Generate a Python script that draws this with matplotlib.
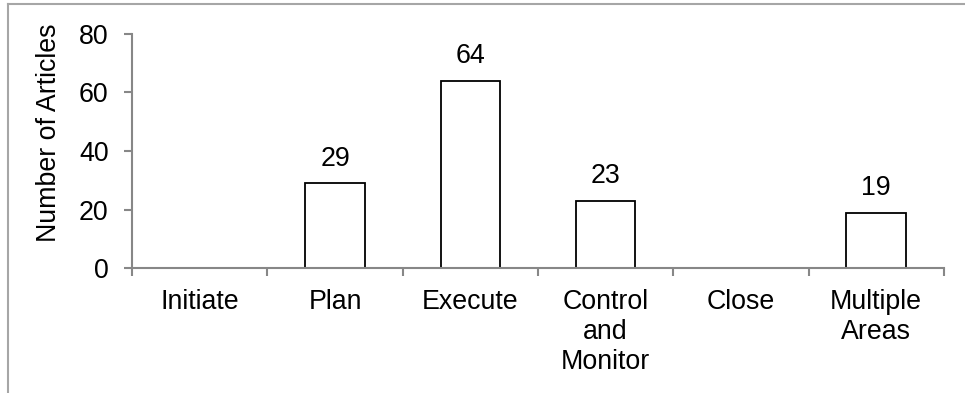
import matplotlib
matplotlib.use("Agg")
import matplotlib.pyplot as plt
from matplotlib.lines import Line2D

plt.rcParams['font.family'] = ['Liberation Sans', 'DejaVu Sans']

# articles per project phase
phases = ['Initiate', 'Plan', 'Execute', 'Control\nand\nMonitor', 'Close', 'Multiple\nAreas']
articles = [0, 29, 64, 23, 0, 19]
labelled = [False, True, True, True, False, True]

axis_grey = '#878787'
fsize = 19.3

fig = plt.figure(figsize=(9.65, 3.93), dpi=100)
ax = fig.add_axes([0.137, 0.317, 0.841, 0.597])

x = list(range(len(phases)))
# bars under the spines so empty categories leave no outline on the axis
bars = ax.bar(x, articles, width=0.44, color='white', edgecolor='black', linewidth=1.3, zorder=2)

for xi, val, show in zip(x, articles, labelled):
    if show:
        ax.annotate(str(val), (xi, val), xytext=(0, 8.5), textcoords='offset points',
                    ha='center', va='bottom', fontsize=fsize)

ax.set_xlim(-0.5, len(phases) - 0.5)
ax.set_ylim(0, 80)
ax.set_yticks([0, 20, 40, 60, 80])

# category ticks sit on the boundaries, labels in the middle
ax.set_xticks([i - 0.5 for i in range(len(phases) + 1)])
ax.set_xticklabels([])
ax.set_xticks(x, minor=True)
ax.set_xticklabels(phases, minor=True, fontsize=fsize, linespacing=1.2)
ax.tick_params(axis='x', which='minor', length=0, pad=15)
ax.tick_params(axis='x', which='major', length=6, width=1.5, color=axis_grey)
ax.tick_params(axis='y', length=6, width=1.5, color=axis_grey, labelsize=fsize, pad=11)

for side in ['top', 'right']:
    ax.spines[side].set_visible(False)
for side in ['left', 'bottom']:
    ax.spines[side].set_color(axis_grey)
    ax.spines[side].set_linewidth(1.5)
    ax.spines[side].set_zorder(3)

ax.set_ylabel('Number of Articles', fontsize=fsize)
ax.yaxis.set_label_coords(-0.086, 0.58)

# outer chart-area border (only top and left edges show)
frame_col = '#a6a6a6'
fig.add_artist(Line2D([0.0085, 1.0], [0.991, 0.991], color=frame_col, linewidth=1.5, transform=fig.transFigure))
fig.add_artist(Line2D([0.0085, 0.0085], [0.0, 0.991], color=frame_col, linewidth=1.5, transform=fig.transFigure))

fig.savefig('out.png', dpi=100)
